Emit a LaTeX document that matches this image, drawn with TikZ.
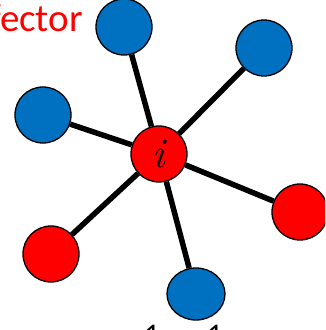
\documentclass[tikz,border=0pt]{standalone}
\usepackage{fontspec}
\setmainfont{Carlito}
\newfontfamily\lmfont{Latin Modern Roman}
\usetikzlibrary{shapes.geometric}
\definecolor{nodeblue}{RGB}{0,112,192}
\definecolor{nodered}{RGB}{255,0,0}
\tikzset{
  vtx/.style={circle,draw=black,line width=1.3pt,minimum size=56pt,inner sep=0pt},
  bluevtx/.style={vtx,fill=nodeblue},
  redvtx/.style={vtx,fill=nodered},
  link/.style={line width=5.5pt,black}
}

\begin{document}
\begin{tikzpicture}[x=1pt,y=1pt]
  \useasboundingbox (0,0) rectangle (325,330);
  \clip (0,0) rectangle (325,330);
  \node (lbl) at (83,298) [anchor=base east,inner sep=0pt,text=nodered,font=\fontsize{39}{40}\selectfont] {Effector};
  \node (n1) at (152,5) [anchor=north,inner sep=0pt,font=\fontsize{30}{30}\selectfont] {1};
  \node (n2) at (215,5) [anchor=north,inner sep=0pt,font=\fontsize{30}{30}\selectfont] {1};
  \node (ctr) at (159,176) [redvtx,font=\lmfont\itshape\fontsize{42}{42}\selectfont] {i};
  \node (top) at (124,303) [bluevtx] {};
  \node (tr) at (264,282) [bluevtx] {};
  \node (lft) at (43,215) [bluevtx] {};
  \node (rgt) at (300,118) [redvtx] {};
  \node (lr) at (51,76) [redvtx] {};
  \node (bot) at (196,36) [bluevtx,ellipse,minimum width=58pt,minimum height=52pt] {};
  \draw[link] (ctr) -- (top);
  \draw[link] (ctr) -- (tr);
  \draw[link] (ctr) -- (lft);
  \draw[link] (ctr) -- (rgt);
  \draw[link] (ctr) -- (lr);
  \draw[link] (ctr) -- (bot);
\end{tikzpicture}
\end{document}
